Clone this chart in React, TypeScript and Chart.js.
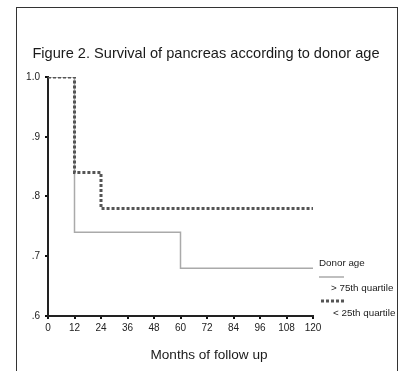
import React, { useEffect, useRef } from "react";
import { Chart, registerables } from "chart.js";

Chart.register(...registerables);

const titleText = "Figure 2. Survival of pancreas according to donor age";
const xAxisTitle = "Months of follow up";
const legendTitle = "Donor age";
const seriesNames = ["< 25th quartile", "> 75th quartile"];

const xTicks = [0, 12, 24, 36, 48, 60, 72, 84, 96, 108, 120];
const yTicks = [0.6, 0.7, 0.8, 0.9, 1.0];

// Kaplan-Meier step points (month, survival)
const lowMonths = [0, 12, 24, 120];
const lowSurvival = [1.0, 0.84, 0.78, 0.78];
const highMonths = [0, 12, 60, 120];
const highSurvival = [1.0, 0.74, 0.68, 0.68];

const FONT = "Arial, 'Liberation Sans', Helvetica, sans-serif";

const overlayPlugin = {
  id: "overlay",
  afterDraw(chart: any) {
    const ctx = chart.ctx;
    ctx.save();
    ctx.fillStyle = "#1a1a1a";
    ctx.textBaseline = "middle";
    ctx.textAlign = "center";
    ctx.font = `14.6px ${FONT}`;
    ctx.fillText(titleText, 206, 54);
    ctx.font = `13.6px ${FONT}`;
    ctx.fillText(xAxisTitle, 209, 355);

    ctx.textAlign = "left";
    ctx.font = `9.8px ${FONT}`;
    ctx.fillText(legendTitle, 319, 263);
    ctx.fillText(seriesNames[1], 331, 288);
    ctx.fillText(seriesNames[0], 333, 313);

    ctx.strokeStyle = "#aaaaaa";
    ctx.lineWidth = 1.5;
    ctx.beginPath();
    ctx.moveTo(319, 277);
    ctx.lineTo(344, 277);
    ctx.stroke();

    ctx.strokeStyle = "#555555";
    ctx.lineWidth = 3;
    ctx.setLineDash([3, 2]);
    ctx.beginPath();
    ctx.moveTo(321, 301);
    ctx.lineTo(344, 301);
    ctx.stroke();
    ctx.restore();
  },
};

export default function App() {
  const ref = useRef<HTMLCanvasElement | null>(null);

  useEffect(() => {
    if (!ref.current) return;
    const chart = new Chart(ref.current, {
      type: "line",
      data: {
        datasets: [
          {
            label: seriesNames[0],
            data: lowMonths.map((m, i) => ({ x: m, y: lowSurvival[i] })),
            borderColor: "#555555",
            borderWidth: 3,
            borderDash: [3, 2],
            stepped: "before",
            pointRadius: 0,
            fill: false,
          },
          {
            label: seriesNames[1],
            data: highMonths.map((m, i) => ({ x: m, y: highSurvival[i] })),
            borderColor: "#aaaaaa",
            borderWidth: 1.5,
            stepped: "before",
            pointRadius: 0,
            fill: false,
          },
        ],
      },
      options: {
        animation: false,
        responsive: false,
        maintainAspectRatio: false,
        layout: { padding: { left: 0, right: 90, top: 77, bottom: 0 } },
        plugins: {
          legend: { display: false },
          title: { display: false },
          tooltip: { enabled: false },
        },
        scales: {
          x: {
            type: "linear",
            min: 0,
            max: 120,
            afterBuildTicks: (s: any) => {
              s.ticks = xTicks.map((v) => ({ value: v }));
            },
            afterFit: (s: any) => {
              s.height = 55;
            },
            border: { color: "#222222", width: 2 },
            grid: {
              drawOnChartArea: false,
              drawTicks: true,
              tickLength: 3,
              color: "#111111",
              lineWidth: 2,
            },
            ticks: {
              color: "#222222",
              font: { family: FONT, size: 10 },
              padding: 3,
              maxRotation: 0,
              autoSkip: false,
            },
          },
          y: {
            type: "linear",
            min: 0.6,
            max: 1.0,
            afterBuildTicks: (s: any) => {
              s.ticks = yTicks.map((v) => ({ value: v }));
            },
            afterFit: (s: any) => {
              s.width = 48;
            },
            border: { color: "#222222", width: 2 },
            grid: {
              drawOnChartArea: false,
              drawTicks: true,
              tickLength: 3,
              color: "#111111",
              lineWidth: 2,
            },
            ticks: {
              color: "#222222",
              font: { family: FONT, size: 10 },
              padding: 5,
              callback: (v: any) =>
                Math.abs(v - 1) < 1e-9 ? "1.0" : "." + Math.round(v * 10),
            },
          },
        },
      },
      plugins: [overlayPlugin],
    } as any);
    return () => chart.destroy();
  }, []);

  return (
    <div
      style={{
        position: "fixed",
        left: 0,
        top: 0,
        width: 403,
        height: 371,
        background: "#ffffff",
        overflow: "hidden",
      }}
    >
      <div
        style={{
          position: "absolute",
          left: 16,
          top: 7,
          width: 382,
          height: 400,
          border: "1px solid #333333",
          boxSizing: "border-box",
        }}
      />
      <canvas
        ref={ref}
        width={403}
        height={371}
        style={{ position: "absolute", left: 0, top: 0, width: 403, height: 371 }}
      />
    </div>
  );
}
